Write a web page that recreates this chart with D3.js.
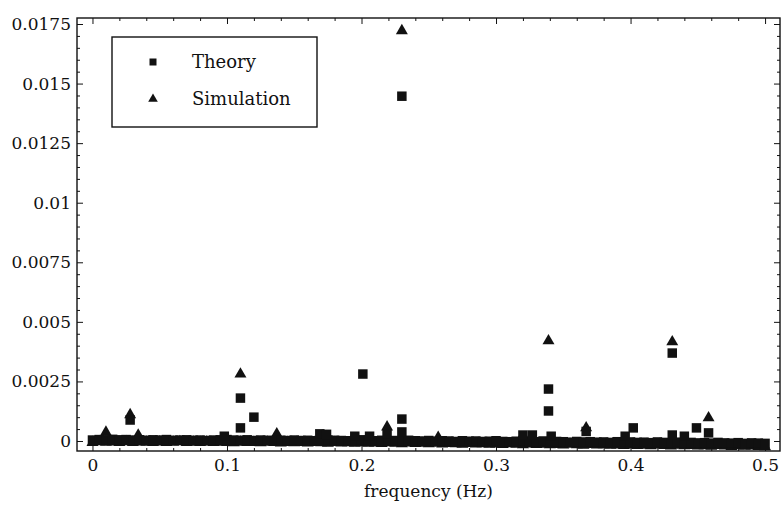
<!DOCTYPE html>
<html>
<head>
<meta charset="utf-8">
<script src="https://cdn.jsdelivr.net/npm/d3@7"></script>
<style>
  body { margin: 0; background: #fff; }
</style>
</head>
<body>
<svg id="chart"></svg>
<script>
// frequency grid of the dense near-zero band
const freqs = [
  0, 0.005, 0.01, 0.015, 0.02, 0.025, 0.03, 0.035, 0.04, 0.045,
  0.05, 0.055, 0.06, 0.065, 0.07, 0.075, 0.08, 0.085, 0.09, 0.095,
  0.1, 0.105, 0.11, 0.115, 0.12, 0.125, 0.13, 0.135, 0.14, 0.145,
  0.15, 0.155, 0.16, 0.165, 0.17, 0.175, 0.18, 0.185, 0.19, 0.195,
  0.2, 0.205, 0.21, 0.215, 0.22, 0.225, 0.23, 0.235, 0.24, 0.245,
  0.25, 0.255, 0.26, 0.265, 0.27, 0.275, 0.28, 0.285, 0.29, 0.295,
  0.3, 0.305, 0.31, 0.315, 0.32, 0.325, 0.33, 0.335, 0.34, 0.345,
  0.35, 0.355, 0.36, 0.365, 0.37, 0.375, 0.38, 0.385, 0.39, 0.395,
  0.4, 0.405, 0.41, 0.415, 0.42, 0.425, 0.43, 0.435, 0.44, 0.445,
  0.45, 0.455, 0.46, 0.465, 0.47, 0.475, 0.48, 0.485, 0.49, 0.495, 0.5
];
const theoryBase = [
  0.00004, 0.00006, 0.00005, 0.00007, 0.00005, 0.00006, 0.00004, 0.00005, 0.00003, 0.00005,
  0.00004, 0.00006, 0.00003, 0.00004, 0.00005, 0.00003, 0.00004, 0.00002, 0.00004, 0.00005,
  0.00006, 0.00004, 0.00003, 0.00005, 0.00002, 0.00004, 0.00003, 0.00001, 0.00003, 0.00002,
  0.00004, 0.00002, 0.00003, 0.00001, 0.00002, 0.00004, 0.00003, 0.00002, 0.00001, 0.00003,
  0.00005, 0.00002, 0.00001, 0.00003, 0.00000, 0.00002, 0.00001, 0.00003, 0.00001, 0.00000,
  0.00002, -0.00001, 0.00001, 0.00000, -0.00002, 0.00001, -0.00001, 0.00000, -0.00002, -0.00001,
  0.00001, -0.00002, -0.00003, -0.00001, 0.00002, -0.00002, -0.00003, 0.00000, -0.00004, -0.00002,
  -0.00003, -0.00005, -0.00002, -0.00004, -0.00003, -0.00005, -0.00004, -0.00006, -0.00003, -0.00005,
  -0.00004, -0.00006, -0.00005, -0.00007, -0.00004, -0.00006, -0.00008, -0.00005, -0.00007, -0.00006,
  -0.00008, -0.00007, -0.00009, -0.00006, -0.00008, -0.00009, -0.00007, -0.00010, -0.00008, -0.00009, -0.00010
];
const simBase = [
  -0.00006, -0.00003, -0.00005, -0.00004, -0.00007, -0.00003, -0.00006, -0.00004, -0.00005, -0.00007,
  -0.00004, -0.00006, -0.00005, -0.00003, -0.00007, -0.00005, -0.00006, -0.00004, -0.00007, -0.00005,
  -0.00006, -0.00008, -0.00005, -0.00007, -0.00006, -0.00008, -0.00005, -0.00007, -0.00009, -0.00006,
  -0.00008, -0.00007, -0.00009, -0.00006, -0.00008, -0.00010, -0.00007, -0.00009, -0.00008, -0.00010,
  -0.00008, -0.00010, -0.00009, -0.00011, -0.00008, -0.00010, -0.00012, -0.00009, -0.00011, -0.00010,
  -0.00012, -0.00010, -0.00013, -0.00011, -0.00012, -0.00014, -0.00011, -0.00013, -0.00012, -0.00014,
  -0.00013, -0.00015, -0.00012, -0.00014, -0.00016, -0.00013, -0.00015, -0.00014, -0.00016, -0.00015,
  -0.00017, -0.00014, -0.00016, -0.00018, -0.00015, -0.00017, -0.00016, -0.00018, -0.00017, -0.00019,
  -0.00017, -0.00019, -0.00018, -0.00020, -0.00017, -0.00019, -0.00021, -0.00018, -0.00020, -0.00019,
  -0.00021, -0.00020, -0.00022, -0.00019, -0.00021, -0.00023, -0.00020, -0.00022, -0.00021, -0.00023, -0.00024
];

// points standing out of the band
const theoryPeakFreq = [0.028, 0.098, 0.11, 0.11, 0.12, 0.169, 0.174, 0.195, 0.201, 0.206, 0.219,
  0.23, 0.23, 0.23, 0.32, 0.327, 0.339, 0.339, 0.341, 0.367, 0.396, 0.402, 0.431, 0.431, 0.44, 0.449, 0.458];
const theoryPeakVal = [0.00088, 0.0002, 0.0018, 0.00055, 0.001, 0.0003, 0.00028, 0.0002, 0.00281, 0.0002, 0.0003,
  0.01447, 0.00092, 0.00038, 0.00025, 0.00025, 0.00218, 0.00126, 0.0002, 0.0004, 0.0002, 0.00055, 0.00369, 0.00025, 0.0002, 0.00055, 0.00034];
const simPeakFreq = [0.01, 0.028, 0.034, 0.11, 0.137, 0.219, 0.23, 0.257, 0.339, 0.367, 0.431, 0.458];
const simPeakVal = [0.00037, 0.0011, 0.00025, 0.00281, 0.0003, 0.00059, 0.01722, 0.00015, 0.0042, 0.00055, 0.00416, 0.00097];

const xTicks = [0, 0.1, 0.2, 0.3, 0.4, 0.5];
const xTickLabels = ["0", "0.1", "0.2", "0.3", "0.4", "0.5"];
const yTicks = [0, 0.0025, 0.005, 0.0075, 0.01, 0.0125, 0.015, 0.0175];
const yTickLabels = ["0", "0.0025", "0.005", "0.0075", "0.01", "0.0125", "0.015", "0.0175"];
const seriesNames = ["Theory", "Simulation"];

const FONT = "'DejaVu Serif', serif";
const width = 783, height = 508;
const margin = { top: 18, right: 3, bottom: 57, left: 77 };
const innerW = width - margin.left - margin.right;
const innerH = height - margin.top - margin.bottom;

const svg = d3.select("#chart").attr("width", width).attr("height", height);
const g = svg.append("g").attr("transform", `translate(${margin.left},${margin.top})`);

const xScale = d3.scaleLinear().domain([-0.0115, 0.5111]).range([0, innerW]);
const yScale = d3.scaleLinear().domain([-0.00042, 0.017752]).range([innerH, 0]);

const xMinor = d3.range(0, 0.5001, 0.02).filter(v => Math.abs(v * 10 - Math.round(v * 10)) > 1e-6);
const yMinor = d3.range(0, 0.0176, 0.0005).filter(v => Math.abs(v / 0.0025 - Math.round(v / 0.0025)) > 1e-6);

const fmt = (ticks, labels) => v => labels[ticks.findIndex(t => Math.abs(t - v) < 1e-9)];

function styleAxis(sel) {
  sel.attr("font-family", null);
  sel.select(".domain").remove();
  sel.selectAll("line").attr("stroke", "#111").attr("stroke-width", 1);
  sel.selectAll("text")
    .style("font-family", FONT)
    .style("font-size", "17px")
    .attr("fill", "#111");
}

// bottom / left with labels
g.append("g").attr("transform", `translate(0,${innerH})`)
  .call(d3.axisBottom(xScale).tickValues(xTicks).tickSize(-6).tickPadding(8).tickFormat(fmt(xTicks, xTickLabels)))
  .call(styleAxis);
g.append("g").attr("transform", `translate(0,${innerH})`)
  .call(d3.axisBottom(xScale).tickValues(xMinor).tickSize(-3).tickFormat(""))
  .call(styleAxis);
g.append("g")
  .call(d3.axisLeft(yScale).tickValues(yTicks).tickSize(-6).tickPadding(6).tickFormat(fmt(yTicks, yTickLabels)))
  .call(styleAxis);
g.append("g")
  .call(d3.axisLeft(yScale).tickValues(yMinor).tickSize(-3).tickFormat(""))
  .call(styleAxis);

// mirrored ticks top / right
g.append("g").call(d3.axisTop(xScale).tickValues(xTicks).tickSize(-6).tickFormat("")).call(styleAxis);
g.append("g").call(d3.axisTop(xScale).tickValues(xMinor).tickSize(-3).tickFormat("")).call(styleAxis);
g.append("g").attr("transform", `translate(${innerW},0)`)
  .call(d3.axisRight(yScale).tickValues(yTicks).tickSize(-6).tickFormat("")).call(styleAxis);
g.append("g").attr("transform", `translate(${innerW},0)`)
  .call(d3.axisRight(yScale).tickValues(yMinor).tickSize(-3).tickFormat("")).call(styleAxis);

g.append("rect")
  .attr("width", innerW).attr("height", innerH)
  .attr("fill", "none").attr("stroke", "#111").attr("stroke-width", 1.4);

g.append("text")
  .attr("x", innerW / 2).attr("y", innerH + 46)
  .attr("text-anchor", "middle")
  .style("font-family", FONT)
  .style("font-size", "17px")
  .attr("fill", "#111")
  .text("frequency (Hz)");

// points
const square = d3.symbol().type(d3.symbolSquare).size(90);
const triangle = d3.symbol().type(d3.symbolTriangle).size(62);

const theoryPts = freqs.map((f, i) => ({ f, v: theoryBase[i] }))
  .concat(theoryPeakFreq.map((f, i) => ({ f, v: theoryPeakVal[i] })));
const simPts = freqs.map((f, i) => ({ f, v: simBase[i] }))
  .concat(simPeakFreq.map((f, i) => ({ f, v: simPeakVal[i] })));

const pts = g.append("g").attr("class", "points");
pts.selectAll(".sim")
  .data(simPts)
  .join("path")
  .attr("class", "sim")
  .attr("d", triangle)
  .attr("fill", "#111")
  .attr("transform", d => `translate(${xScale(d.f)},${yScale(d.v)})`);
pts.selectAll(".theory")
  .data(theoryPts)
  .join("path")
  .attr("class", "theory")
  .attr("d", square)
  .attr("fill", "#111")
  .attr("transform", d => `translate(${xScale(d.f)},${yScale(d.v)})`);

// legend
const legend = svg.append("g").attr("transform", "translate(112,37)");
legend.append("rect")
  .attr("width", 205).attr("height", 90)
  .attr("fill", "#fff").attr("stroke", "#111").attr("stroke-width", 1.4);
const items = legend.selectAll(".legend-item")
  .data(seriesNames)
  .join("g")
  .attr("class", "legend-item")
  .attr("transform", (d, i) => `translate(0,${25 + i * 37})`);
items.append("path")
  .attr("d", (d, i) => (i === 0 ? d3.symbol().type(d3.symbolSquare).size(49) : d3.symbol().type(d3.symbolTriangle).size(40))())
  .attr("fill", "#111")
  .attr("transform", "translate(41,0)");
items.append("text")
  .attr("x", 80).attr("dy", "0.32em")
  .style("font-family", FONT)
  .style("font-size", "18px")
  .attr("fill", "#111")
  .text(d => d);
</script>
</body>
</html>
